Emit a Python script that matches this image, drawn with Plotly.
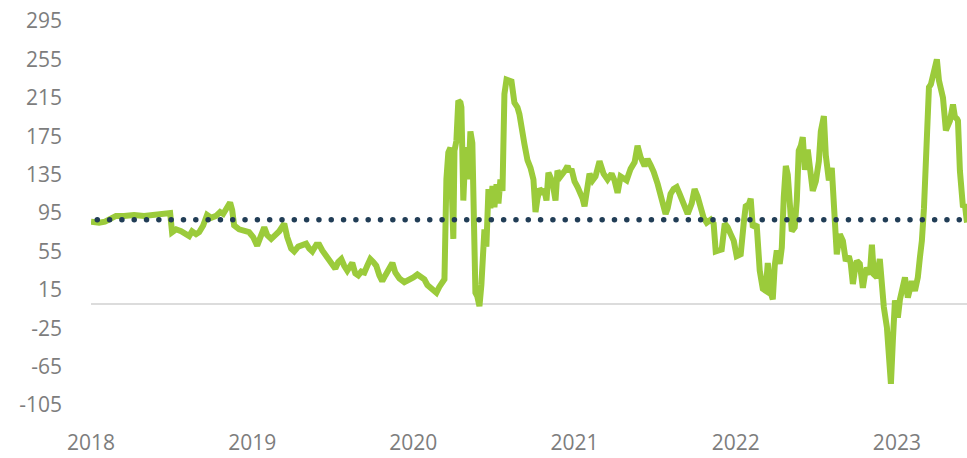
import numpy as np
import plotly.graph_objects as go

# decimal-year dates of the series
years = [
    2018.000, 2018.050, 2018.087, 2018.124, 2018.155, 2018.205, 2018.267, 2018.329, 2018.391, 2018.441,
    2018.472, 2018.491, 2018.503, 2018.528, 2018.559, 2018.584, 2018.609, 2018.627, 2018.652, 2018.671,
    2018.696, 2018.720, 2018.745, 2018.776, 2018.801, 2018.820, 2018.845, 2018.863, 2018.876, 2018.888,
    2018.919, 2018.950, 2018.981, 2019.006, 2019.031, 2019.056, 2019.075, 2019.093, 2019.118, 2019.143,
    2019.168, 2019.199, 2019.217, 2019.242, 2019.261, 2019.286, 2019.311, 2019.335, 2019.354, 2019.373,
    2019.398, 2019.416, 2019.435, 2019.453, 2019.478, 2019.497, 2019.516, 2019.534, 2019.553, 2019.571,
    2019.590, 2019.609, 2019.621, 2019.640, 2019.658, 2019.677, 2019.696, 2019.714, 2019.733, 2019.751,
    2019.770, 2019.789, 2019.807, 2019.826, 2019.851, 2019.870, 2019.888, 2019.913, 2019.944, 2019.975,
    2020.000, 2020.025, 2020.050, 2020.068, 2020.087, 2020.106, 2020.124, 2020.143, 2020.161, 2020.180,
    2020.193, 2020.205, 2020.217, 2020.230, 2020.242, 2020.248, 2020.255, 2020.267, 2020.279, 2020.292,
    2020.298, 2020.310, 2020.323, 2020.329, 2020.342, 2020.348, 2020.354, 2020.366, 2020.373, 2020.385,
    2020.397, 2020.410, 2020.422, 2020.435, 2020.441, 2020.453, 2020.466, 2020.478, 2020.491, 2020.503,
    2020.516, 2020.528, 2020.540, 2020.553, 2020.565, 2020.578, 2020.596, 2020.609, 2020.627, 2020.646,
    2020.658, 2020.671, 2020.689, 2020.708, 2020.727, 2020.745, 2020.758, 2020.770, 2020.783, 2020.801,
    2020.814, 2020.826, 2020.838, 2020.851, 2020.863, 2020.882, 2020.894, 2020.913, 2020.925, 2020.944,
    2020.957, 2020.969, 2020.981, 2021.000, 2021.019, 2021.031, 2021.050, 2021.062, 2021.081, 2021.093,
    2021.112, 2021.130, 2021.155, 2021.168, 2021.180, 2021.205, 2021.230, 2021.248, 2021.267, 2021.286,
    2021.304, 2021.323, 2021.348, 2021.373, 2021.391, 2021.410, 2021.435, 2021.453, 2021.472, 2021.491,
    2021.516, 2021.540, 2021.565, 2021.578, 2021.596, 2021.615, 2021.634, 2021.652, 2021.677, 2021.702,
    2021.727, 2021.745, 2021.764, 2021.783, 2021.801, 2021.820, 2021.845, 2021.863, 2021.876, 2021.894,
    2021.913, 2021.932, 2021.950, 2021.969, 2021.988, 2022.006, 2022.031, 2022.050, 2022.062, 2022.081,
    2022.093, 2022.106, 2022.130, 2022.149, 2022.168, 2022.186, 2022.199, 2022.217, 2022.230, 2022.242,
    2022.255, 2022.273, 2022.286, 2022.298, 2022.311, 2022.323, 2022.335, 2022.348, 2022.366, 2022.379,
    2022.391, 2022.404, 2022.416, 2022.429, 2022.447, 2022.466, 2022.478, 2022.497, 2022.516, 2022.528,
    2022.547, 2022.559, 2022.565, 2022.578, 2022.596, 2022.609, 2022.627, 2022.646, 2022.665, 2022.683,
    2022.702, 2022.714, 2022.727, 2022.739, 2022.752, 2022.770, 2022.789, 2022.801, 2022.814, 2022.832,
    2022.845, 2022.857, 2022.876, 2022.894, 2022.907, 2022.919, 2022.938, 2022.950, 2022.963, 2022.975,
    2022.988, 2023.000, 2023.006, 2023.019, 2023.031, 2023.050, 2023.068, 2023.081, 2023.093, 2023.112,
    2023.130, 2023.143, 2023.155, 2023.168, 2023.180, 2023.193, 2023.199, 2023.211, 2023.224, 2023.236,
    2023.248, 2023.261, 2023.273, 2023.286, 2023.304, 2023.317, 2023.329, 2023.348, 2023.360, 2023.373,
    2023.379, 2023.391, 2023.404, 2023.410, 2023.422, 2023.435,
]

values = [
    86, 85, 86, 90, 92, 92, 93, 92, 93, 94,
    95, 95, 75, 78, 76, 73, 71, 76, 73, 75,
    82, 93, 90, 92, 96, 94, 100, 106, 98, 82,
    78, 77, 75, 70, 61, 72, 80, 72, 68, 72,
    76, 84, 70, 58, 55, 60, 62, 63, 58, 55,
    62, 62, 56, 52, 45, 42, 37, 44, 47, 40,
    35, 40, 43, 32, 30, 34, 33, 40, 47, 44,
    40, 30, 24, 30, 38, 43, 33, 27, 23, 25,
    28, 31, 29, 26, 20, 17, 14, 12, 18, 22,
    26, 130, 158, 163, 120, 68, 160, 170, 212, 210,
    205, 108, 160, 163, 130, 175, 180, 168, 80, 12,
    8, -2, 20, 50, 78, 60, 120, 100, 123, 101,
    125, 105, 130, 118, 219, 234, 233, 232, 210, 205,
    198, 180, 167, 150, 142, 130, 96, 110, 120, 117,
    118, 108, 137, 132, 127, 108, 139, 133, 135, 140,
    144, 138, 141, 128, 122, 118, 110, 102, 120, 136,
    129, 133, 149, 140, 136, 130, 136, 129, 116, 133,
    130, 129, 141, 148, 165, 153, 144, 151, 145, 138,
    125, 108, 94, 100, 115, 120, 122, 115, 104, 94,
    105, 120, 112, 98, 90, 85, 88, 84, 55, 56,
    57, 84, 80, 73, 66, 50, 52, 85, 102, 104,
    110, 80, 83, 35, 16, 14, 43, 12, 5, 40,
    56, 42, 59, 111, 144, 135, 108, 76, 80, 108,
    160, 165, 174, 140, 161, 139, 118, 128, 149, 180,
    196, 155, 149, 129, 142, 111, 52, 73, 66, 45,
    50, 42, 21, 35, 45, 42, 17, 30, 38, 31,
    62, 31, 28, 47, 17, -3, -24, -60, -83, -38,
    4, -5, -14, 5, 17, 28, 7, 20, 24, 14,
    28, 49, 66, 100, 149, 184, 226, 229, 241, 245,
    255, 233, 225, 215, 181, 188, 191, 208, 195, 193,
    191, 139, 120, 101, 104, 85,
]

average_value = 88
year_ticks = [2018, 2019, 2020, 2021, 2022, 2023]
year_labels = ["2018", "2019", "2020", "2021", "2022", "2023"]
y_ticks = [-105, -65, -25, 15, 55, 95, 135, 175, 215, 255, 295]
y_labels = [str(v) for v in y_ticks]

x_range = [2018.0, 2023.435]

fig = go.Figure()
fig.add_trace(go.Scatter(
    x=years, y=values, mode="lines",
    line=dict(color="#9BCB3B", width=6),
    hoverinfo="skip", showlegend=False,
))

dot_x = np.arange(2018.039, 2023.40, 0.0764)
fig.add_trace(go.Scatter(
    x=dot_x, y=[average_value] * len(dot_x), mode="markers",
    marker=dict(color="#213d56", size=5.5),
    hoverinfo="skip", showlegend=False,
))

tick_font = dict(family="Open Sans", size=21, color="#7d7d7d")
fig.update_layout(
    width=967, height=458,
    margin=dict(l=91, r=0, t=21, b=53, autoexpand=False),
    paper_bgcolor="white", plot_bgcolor="white",
    xaxis=dict(range=x_range, tickvals=year_ticks, ticktext=year_labels,
               showgrid=False, zeroline=False, showline=False, automargin=False,
               tickfont=tick_font, ticks="", ticklabelstandoff=23, ticklabeloverflow="allow"),
    yaxis=dict(range=[-105, 295], tickvals=y_ticks, ticktext=y_labels,
               showgrid=False, zeroline=True, zerolinecolor="#dcdcdc", zerolinewidth=2,
               showline=False, automargin=False,
               tickfont=tick_font, ticks="", ticklabelstandoff=28, ticklabeloverflow="allow"),
)

# remove the default page margin so the figure fills the window exactly
fig.write_html(
    "out.html",
    config={"displayModeBar": False},
    post_script="document.body.style.margin='0';document.body.style.overflow='hidden';",
)
